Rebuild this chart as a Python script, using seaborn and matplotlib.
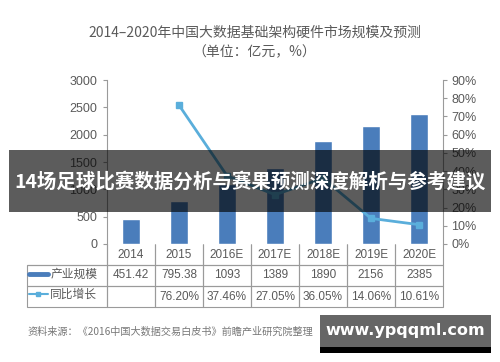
import numpy as np
import pandas as pd
import matplotlib
matplotlib.use("Agg")
import matplotlib.pyplot as plt
from matplotlib.patches import Rectangle
from matplotlib.lines import Line2D
import seaborn as sns

years = ['2014', '2015', '2016E', '2017E', '2018E', '2019E', '2020E']
scale = [451.42, 795.38, 1093, 1389, 1890, 2156, 2385]
growth = [np.nan, 76.20, 37.46, 27.05, 36.05, 14.06, 10.61]
scale_labels = ['451.42', '795.38', '1093', '1389', '1890', '2156', '2385']
growth_labels = ['', '76.20%', '37.46%', '27.05%', '36.05%', '14.06%', '10.61%']
series_names = ['产业规模', '同比增长']
title1 = '2014–2020年中国大数据基础架构硬件市场规模及预测'
title2 = '（单位：亿元，%）'
source = '资料来源：《2016中国大数据交易白皮书》前瞻产业研究院整理'
banner = '14场足球比赛数据分析与赛果预测深度解析与参考建议'
watermark = 'www.ypqqml.com'

sns.set_style('white')
plt.rcParams['font.family'] = ['Liberation Sans', 'Noto Sans CJK SC', 'DejaVu Sans']

BAR = '#4a7dbb'
LINE = '#5aaedb'
TXT = '#5a5a5a'
EDGE = '#9a9a9a'

df = pd.DataFrame({'year': years, 'scale': scale, 'growth': growth})

fig = plt.figure(figsize=(5.0, 3.62), dpi=100)
ax = fig.add_axes([107/500, 1-244/362, 336/500, 164/362])
sns.barplot(data=df, x='year', y='scale', color=BAR, width=0.38, ax=ax,
            saturation=1, zorder=2)
ax.set_ylim(0, 3000)
ax.set_yticks(np.arange(0, 3001, 500))
ax.set_xlim(-0.5, len(years) - 0.5)
ax.set_xlabel('')
ax.set_ylabel('')
ax.set_xticks([])
for s in ['top', 'right', 'bottom']:
    ax.spines[s].set_visible(False)
ax.spines['left'].set_color(EDGE)
ax.tick_params(axis='y', colors=TXT, labelsize=9, length=3, width=0.8,
               color=EDGE, left=True, pad=4)
for lbl in ax.get_yticklabels():
    lbl.set_color(TXT)

ax2 = ax.twinx()
sub = df.dropna()
ax2.plot([years.index(y) for y in sub['year']], sub['growth'], color=LINE,
         lw=2, marker='s', ms=5, zorder=3)
ax2.set_ylim(0, 90)
ax2.set_yticks(np.arange(0, 91, 10))
ax2.set_yticklabels([f'{v}%' for v in range(0, 91, 10)])
for s in ['top', 'left', 'bottom']:
    ax2.spines[s].set_visible(False)
ax2.spines['right'].set_color(EDGE)
ax2.tick_params(axis='y', colors=TXT, labelsize=9, length=3, width=0.8,
                color=EDGE, right=True, pad=3)
ax2.set_xlim(-0.5, len(years) - 0.5)
ax2.set_ylabel('')

# Table below the axes
lab_w = 80/336
cell_texts = [[''] + years, [''] + scale_labels, [''] + growth_labels]
tbl_h = (307 - 244) / 164
tbl = ax.table(cellText=cell_texts, cellLoc='center',
               colWidths=[lab_w] + [1/7]*7,
               bbox=[-lab_w, -tbl_h, 1 + lab_w, tbl_h])
tbl.auto_set_font_size(False)
tbl.set_fontsize(8.5)
for (r, c), cell in tbl.get_celld().items():
    cell.set_edgecolor(EDGE)
    cell.set_linewidth(0.8)
    cell.get_text().set_color(TXT)
    cell.set_facecolor('none')
    if r == 0:
        if c == 0:
            cell.visible_edges = 'BR'
        else:
            cell.visible_edges = 'BRL'
tbl.set_clip_on(False)

handles = [Line2D([], [], color=BAR, lw=3.5),
           Line2D([], [], color=LINE, lw=1.5, marker='s', ms=3.5)]
leg = fig.legend(handles, series_names, loc='center left',
                 bbox_to_anchor=(29/500, 1-285/362), frameon=False,
                 fontsize=8.5, handlelength=1.6, handletextpad=0.2,
                 labelspacing=0.65, borderpad=0, borderaxespad=0)
for t in leg.get_texts():
    t.set_color(TXT)

cjk = ['Noto Sans CJK SC', 'DejaVu Sans']
fig.text(255/500, 1-33/362, title1, ha='center', va='center', fontsize=10,
         color=TXT, family=cjk)
fig.text(254/500, 1-52/362, title2, ha='center', va='center', fontsize=10,
         color=TXT, family=cjk)
fig.text(27/500, 1-332/362, source, ha='left', va='center', fontsize=7.3,
         color='#777777', family=cjk)

# banner overlay
fig.patches.append(Rectangle((9/500, 1-212/362), 482/500, 62/362,
                             transform=fig.transFigure, facecolor='black',
                             alpha=0.64, edgecolor='none', zorder=10))
fig.text(250/500, 1-181/362, banner, ha='center', va='center', fontsize=14,
         color='white', fontweight='bold', zorder=11, family=cjk)

# watermark
fig.patches.append(Rectangle((320/500, 1-347/362), 171/500, 32/362,
                             transform=fig.transFigure, facecolor='#666666',
                             edgecolor='none', zorder=10))
fig.patches.append(Rectangle((320/500, 1-353/362), 171/500, 6/362,
                             transform=fig.transFigure, facecolor='black',
                             edgecolor='none', zorder=10))
fig.text(405/500, 1-331/362, watermark, ha='center', va='center', fontsize=11.5,
         color='white', fontweight='bold', zorder=11, family=['DejaVu Sans'])

fig.savefig('out.png', dpi=100)
